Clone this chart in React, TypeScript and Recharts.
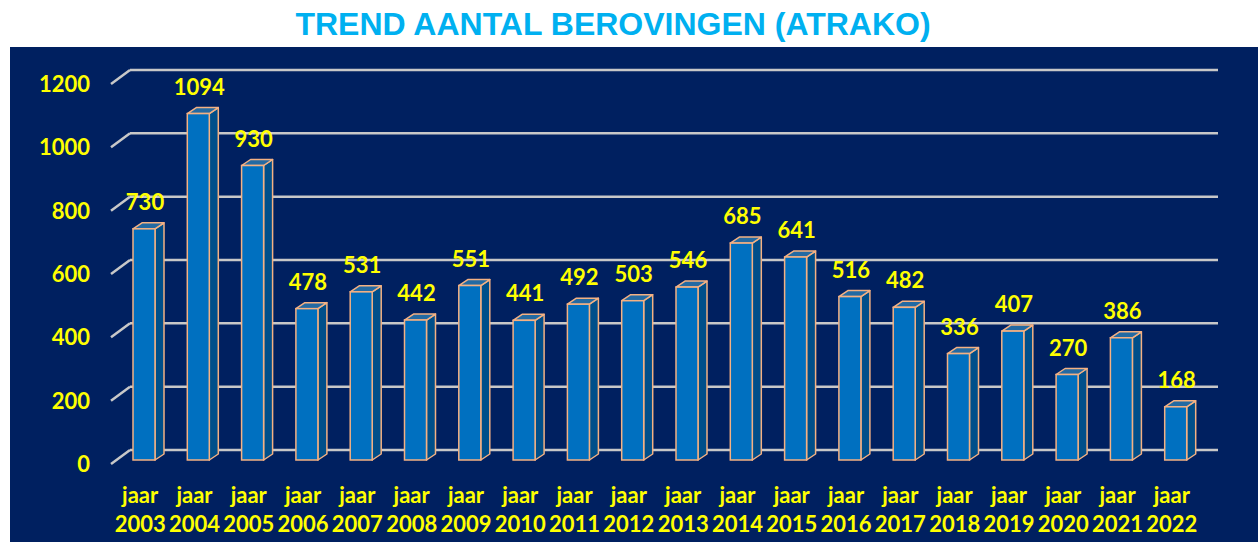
import React from "react";
import { Bar, BarChart, CartesianGrid, LabelList, XAxis, YAxis } from "recharts";

const NAVY = "#002060";
const BLUE = "#0070c0";
const BLUE_SIDE = "#004f8a";
const BLUE_TOP = "#236aa3";
const PEACH = "#f4b183";
const YELLOW = "#ffff00";
const GRID = "#c8c8c8";

const years = [
  "2003", "2004", "2005", "2006", "2007", "2008", "2009", "2010", "2011", "2012",
  "2013", "2014", "2015", "2016", "2017", "2018", "2019", "2020", "2021", "2022",
];
const robberies = [
  730, 1094, 930, 478, 531, 442, 551, 441, 492, 503,
  546, 685, 641, 516, 482, 336, 407, 270, 386, 168,
];
const yTicks = [0, 200, 400, 600, 800, 1000, 1200];

const data = years.map((year, i) => ({ year, value: robberies[i] }));

const DEPTH_X = 9;
const DEPTH_Y = 6;
const FONT = "Lato, 'Open Sans', sans-serif";

function Box3D(props: any) {
  const { x, y, width, height } = props;
  if (height == null || height <= 0) return null;
  const dx = DEPTH_X;
  const dy = DEPTH_Y;
  return (
    <g>
      <polygon
        points={`${x + width},${y} ${x + width + dx},${y - dy} ${x + width + dx},${y + height - dy} ${x + width},${y + height}`}
        fill={BLUE_SIDE}
        stroke={PEACH}
        strokeWidth={1.5}
        strokeLinejoin="round"
      />
      <polygon
        points={`${x},${y} ${x + dx},${y - dy} ${x + width + dx},${y - dy} ${x + width},${y}`}
        fill={BLUE_TOP}
        stroke={PEACH}
        strokeWidth={1.5}
        strokeLinejoin="round"
      />
      <rect x={x} y={y} width={width} height={height} fill={BLUE} stroke={PEACH} strokeWidth={1.5} />
    </g>
  );
}

function GridLine(props: any) {
  const { x1, x2, y1 } = props;
  const backY = y1 - 10;
  return (
    <g>
      <line x1={x1 - 6} y1={y1 + 4} x2={x1 + 13} y2={backY} stroke={GRID} strokeWidth={2.5} />
      <line x1={x1 + 13} y1={backY} x2={x2 + 15} y2={backY} stroke={GRID} strokeWidth={2.5} />
    </g>
  );
}

function ValueLabel(props: any) {
  const { x, y, width, value } = props;
  return (
    <text
      x={x + width / 2 + 1}
      y={y - 19}
      textAnchor="middle"
      fill={YELLOW}
      fontFamily={FONT}
      fontWeight={700}
      fontSize={22}
    >
      {value}
    </text>
  );
}

function YearTick(props: any) {
  const { x, y, payload } = props;
  return (
    <g>
      <text x={x - 4} y={y + 35} textAnchor="middle" fill={YELLOW} fontFamily={FONT} fontWeight={700} fontSize={22}>
        jaar
      </text>
      <text x={x - 4} y={y + 64} textAnchor="middle" fill={YELLOW} fontFamily={FONT} fontWeight={700} fontSize={22}>
        {payload.value}
      </text>
    </g>
  );
}

function ValueTick(props: any) {
  const { y, payload } = props;
  return (
    <text x={90} y={y + 12} textAnchor="end" fill={YELLOW} fontFamily={FONT} fontWeight={700} fontSize={22}>
      {payload.value}
    </text>
  );
}

export default function App() {
  return (
    <div style={{ position: "absolute", left: 0, top: 0, width: 1258, height: 542, background: "#ffffff", overflow: "hidden" }}>
      <div
        style={{
          position: "absolute",
          left: 0,
          top: 8,
          width: 1226,
          textAlign: "center",
          fontFamily: "'Liberation Sans', Arial, sans-serif",
          fontWeight: 700,
          fontSize: 32,
          lineHeight: "32px",
          color: "#00b0f0",
        }}
      >
        TREND AANTAL BEROVINGEN (ATRAKO)
      </div>
      <div style={{ position: "absolute", left: 10, top: 47, width: 1248, height: 495, background: NAVY }} />
      <div style={{ position: "absolute", left: 0, top: 0 }}>
        <BarChart
          width={1258}
          height={542}
          data={data}
          margin={{ top: 80, right: 55, left: 17, bottom: 0 }}
          barCategoryGap={16}
        >
          <CartesianGrid vertical={false} horizontal={(p: any) => <GridLine key={p.key ?? p.index} {...p} />} />
          <XAxis dataKey="year" axisLine={false} tickLine={false} height={82} interval={0} tick={<YearTick />} />
          <YAxis
            domain={[0, 1200]}
            ticks={yTicks}
            axisLine={false}
            tickLine={false}
            width={100}
            tick={<ValueTick />}
          />
          <Bar dataKey="value" barSize={22} shape={<Box3D />} isAnimationActive={false}>
            <LabelList dataKey="value" content={<ValueLabel />} />
          </Bar>
        </BarChart>
      </div>
    </div>
  );
}
